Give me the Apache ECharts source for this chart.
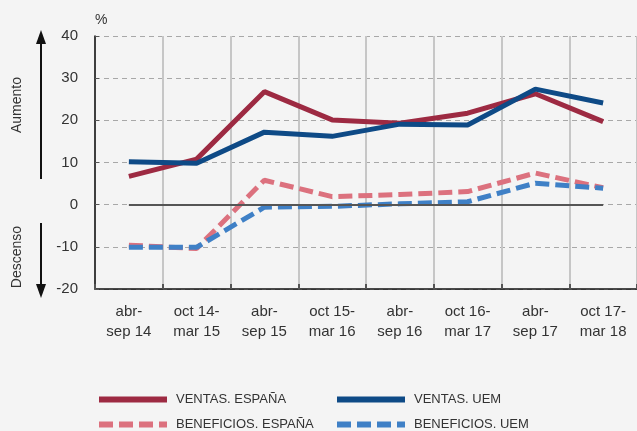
<!DOCTYPE html>
<html>
<head>
<meta charset="utf-8">
<script src="https://cdn.jsdelivr.net/npm/echarts@6/dist/echarts.min.js"></script>
<style>
  html, body { margin: 0; padding: 0; background: #f4f4f4; }
  #chart { width: 637px; height: 431px; }
</style>
</head>
<body>
<div id="chart"></div>
<script>
// periodos semestrales
const categories = ['abr-\nsep 14', 'oct 14-\nmar 15', 'abr-\nsep 15', 'oct 15-\nmar 16', 'abr-\nsep 16', 'oct 16-\nmar 17', 'abr-\nsep 17', 'oct 17-\nmar 18']
const ventasEspana = [6.7, 10.8, 26.8, 20.1, 19.3, 21.7, 26.3, 19.7]
const ventasUem = [10.2, 9.8, 17.2, 16.2, 19.1, 18.9, 27.4, 24.1]
const beneficiosEspana = [-9.6, -10.4, 5.8, 1.9, 2.4, 3.1, 7.5, 4.0]
const beneficiosUem = [-10.1, -10.1, -0.6, -0.4, 0.2, 0.7, 5.1, 3.9]
const yTicks = [-20, -10, 0, 10, 20, 30, 40]

const font = 'Liberation Sans'

const lineSerie = (name, data, color, dashed) => ({
  name: name,
  type: 'line',
  data: data,
  symbol: 'circle',
  showSymbol: false,
  smooth: false,
  lineStyle: {
    color: color,
    width: 5,
    type: dashed ? [14, 6] : 'solid',
    cap: 'butt'
  },
  itemStyle: { color: color }
})

const legendBase = {
  orient: 'vertical',
  top: 393,
  padding: 0,
  itemWidth: 68,
  itemHeight: 12,
  itemGap: 12,
  itemStyle: { opacity: 0 }, // sin círculo, sólo la línea
  lineStyle: { width: 6 },
  textStyle: { fontFamily: font, fontSize: 13, color: '#333', padding: [0, 0, 0, 4] }
}

const option = {
  backgroundColor: '#f4f4f4',
  animation: false,
  grid: {
    left: 95,
    right: 0,
    top: 36,
    bottom: 142,
    containLabel: false
  },
  legend: [
    Object.assign({}, legendBase, { left: 96, data: ['VENTAS. ESPAÑA', 'BENEFICIOS. ESPAÑA'] }),
    Object.assign({}, legendBase, { left: 334, data: ['VENTAS. UEM', 'BENEFICIOS. UEM'] })
  ],
  xAxis: {
    type: 'category',
    data: categories,
    boundaryGap: true,
    axisLine: { show: true, onZero: false, lineStyle: { color: '#111', width: 1.5 } },
    axisTick: { show: true, inside: true, length: 5, lineStyle: { color: '#555', width: 2 } },
    splitLine: { show: true, lineStyle: { color: '#c6c6c6', width: 2 } },
    axisLabel: {
      interval: 0,
      margin: 13,
      fontFamily: font,
      fontSize: 15,
      lineHeight: 20,
      color: '#333'
    }
  },
  yAxis: {
    type: 'value',
    min: yTicks[0],
    max: yTicks[yTicks.length - 1],
    interval: 10,
    name: '%',
    nameLocation: 'end',
    nameGap: 9,
    nameTextStyle: { fontFamily: font, fontSize: 14, color: '#333', align: 'left' },
    axisLine: { show: true, lineStyle: { color: '#111', width: 1.5 } },
    axisTick: { show: true, inside: true, length: 4, lineStyle: { color: '#555' } },
    splitLine: { show: true, lineStyle: { color: '#a8a8a8', width: 1, type: [5, 4] } },
    axisLabel: { margin: 17, fontFamily: font, fontSize: 15, color: '#333' }
  },
  graphic: [
    // flecha Aumento
    { type: 'line', shape: { x1: 41, y1: 42, x2: 41, y2: 179 }, style: { stroke: '#111', lineWidth: 2 } },
    { type: 'polygon', shape: { points: [[36, 44], [46, 44], [41, 30]] }, style: { fill: '#111' } },
    { type: 'text', x: 17, y: 105, rotation: Math.PI / 2, style: { text: 'Aumento', fontFamily: font, fontSize: 14, fill: '#333', align: 'center', verticalAlign: 'middle' } },
    // flecha Descenso
    { type: 'line', shape: { x1: 41, y1: 223, x2: 41, y2: 285 }, style: { stroke: '#111', lineWidth: 2 } },
    { type: 'polygon', shape: { points: [[36, 284], [46, 284], [41, 298]] }, style: { fill: '#111' } },
    { type: 'text', x: 17, y: 257, rotation: Math.PI / 2, style: { text: 'Descenso', fontFamily: font, fontSize: 14, fill: '#333', align: 'center', verticalAlign: 'middle' } }
  ],
  series: [
    Object.assign(lineSerie('VENTAS. ESPAÑA', ventasEspana, '#9d2a42', false), {
      markLine: { // línea de cero
        silent: true,
        symbol: 'none',
        label: { show: false },
        lineStyle: { color: '#555', width: 2, type: 'solid' },
        data: [[{ coord: [categories[0], 0] }, { coord: [categories[categories.length - 1], 0] }]]
      }
    }),
    lineSerie('VENTAS. UEM', ventasUem, '#0e4a86', false),
    lineSerie('BENEFICIOS. ESPAÑA', beneficiosEspana, '#dc717e', true),
    lineSerie('BENEFICIOS. UEM', beneficiosUem, '#3f80c6', true)
  ]
}

const myChart = echarts.init(document.getElementById('chart'))
myChart.setOption(option)
</script>
</body>
</html>
